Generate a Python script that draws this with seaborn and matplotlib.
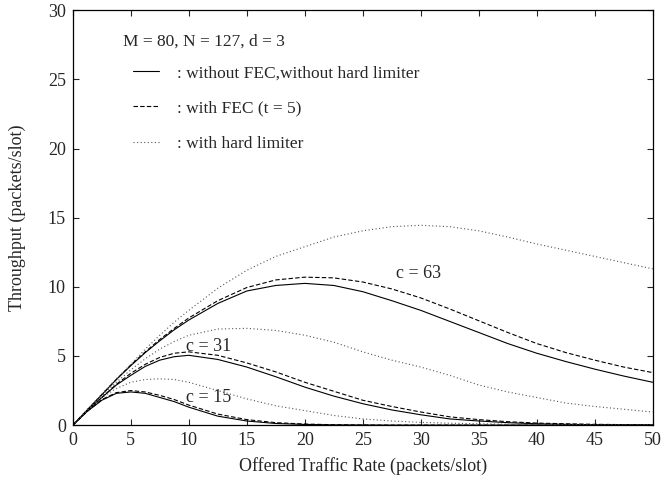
import numpy as np
import pandas as pd
import matplotlib
matplotlib.use("Agg")
import matplotlib.pyplot as plt
import seaborn as sns

# Offered traffic rate (packets/slot)
offered = [0, 1.25, 2.5, 3.75, 5, 6.25, 7.5, 8.75, 10, 12.5, 15, 17.5, 20, 22.5,
           25, 27.5, 30, 32.5, 35, 37.5, 40, 42.5, 45, 47.5, 50]

# Throughput (packets/slot), code length c = 63
c63_plain = [0, 1.1, 2.2, 3.3, 4.3, 5.25, 6.1, 6.9, 7.6, 8.8, 9.7, 10.1, 10.25, 10.1,
             9.65, 9.0, 8.3, 7.5, 6.7, 5.9, 5.2, 4.6, 4.05, 3.55, 3.1]
c63_fec = [0, 1.1, 2.2, 3.3, 4.35, 5.3, 6.2, 7.0, 7.75, 9.0, 9.95, 10.5, 10.7, 10.65,
           10.35, 9.85, 9.2, 8.4, 7.55, 6.7, 5.9, 5.25, 4.7, 4.2, 3.8]
c63_hl = [0, 1.15, 2.25, 3.35, 4.4, 5.5, 6.5, 7.45, 8.3, 9.9, 11.2, 12.2, 12.9, 13.6,
          14.05, 14.35, 14.45, 14.35, 14.05, 13.6, 13.1, 12.65, 12.2, 11.75, 11.3]

# c = 31
c31_plain = [0, 1.05, 2.0, 2.9, 3.6, 4.25, 4.7, 4.95, 5.05, 4.75, 4.2, 3.5, 2.75, 2.1,
             1.55, 1.1, 0.75, 0.45, 0.3, 0.18, 0.1, 0.06, 0.03, 0.02, 0.01]
c31_fec = [0, 1.05, 2.0, 2.95, 3.75, 4.4, 4.9, 5.2, 5.3, 5.05, 4.5, 3.85, 3.1, 2.45,
           1.8, 1.35, 0.95, 0.6, 0.4, 0.25, 0.15, 0.1, 0.06, 0.04, 0.02]
c31_hl = [0, 1.1, 2.1, 3.1, 4.0, 4.8, 5.5, 6.05, 6.5, 6.95, 7.0, 6.85, 6.5, 6.0,
          5.3, 4.7, 4.2, 3.6, 2.9, 2.4, 2.0, 1.6, 1.35, 1.15, 0.95]

# c = 15
c15_plain = [0, 1.0, 1.8, 2.3, 2.4, 2.3, 2.0, 1.7, 1.3, 0.65, 0.3, 0.12, 0.05, 0.02,
             0.01, 0, 0, 0, 0, 0, 0, 0, 0, 0, 0]
c15_fec = [0, 1.0, 1.85, 2.35, 2.5, 2.4, 2.15, 1.85, 1.45, 0.8, 0.4, 0.18, 0.08, 0.03,
           0.01, 0, 0, 0, 0, 0, 0, 0, 0, 0, 0]
c15_hl = [0, 1.05, 2.0, 2.65, 3.1, 3.3, 3.35, 3.3, 3.1, 2.5, 1.9, 1.4, 1.05, 0.7,
          0.45, 0.3, 0.2, 0.14, 0.1, 0.07, 0.05, 0.04, 0.03, 0.02, 0.02]

code_lengths = ["c = 63", "c = 31", "c = 15"]
label_pos = {"c = 63": (29.8, 11.0), "c = 31": (11.75, 5.7), "c = 15": (11.75, 2.0)}

legend_title = "M = 80, N = 127, d = 3"
case_labels = [": without FEC,without hard limiter", ": with FEC (t = 5)", ": with hard limiter"]

series = {
    "c = 63": [c63_plain, c63_fec, c63_hl],
    "c = 31": [c31_plain, c31_fec, c31_hl],
    "c = 15": [c15_plain, c15_fec, c15_hl],
}

rows = []
for c in code_lengths:
    for case, vals in zip(case_labels, series[c]):
        for x, y in zip(offered, vals):
            rows.append({"offered": x, "throughput": y, "code": c, "case": case})
df = pd.DataFrame(rows)

sns.set_style("ticks")
plt.rcParams["font.family"] = ["Liberation Serif", "DejaVu Serif"]

fig, ax = plt.subplots(figsize=(6.62, 4.87), dpi=100)
fig.subplots_adjust(left=0.110, right=0.986, top=0.979, bottom=0.127)

styles = {
    case_labels[0]: dict(color="black", linestyle="-", linewidth=0.8),
    case_labels[1]: dict(color="black", linestyle=(0, (4, 2)), linewidth=0.8),
    case_labels[2]: dict(color="#555555", linestyle=(0, (1, 2.2)), linewidth=0.8),
}

handles = {}
for c in code_lengths:
    for case in case_labels:
        sub = df[(df["code"] == c) & (df["case"] == case)]
        sns.lineplot(data=sub, x="offered", y="throughput", ax=ax,
                     estimator=None, sort=True, **styles[case])
        handles[case] = ax.lines[-1]

for c in code_lengths:
    ax.text(*label_pos[c], c, fontsize=13, ha="center", va="center")

ax.set_xlim(0, 50)
ax.set_ylim(0, 30)
ax.set_xticks(np.arange(0, 51, 5))
ax.set_yticks(np.arange(0, 31, 5))
ax.tick_params(direction="in", top=True, right=True, length=4, width=0.8,
               labelsize=13, pad=5)
for s in ax.spines.values():
    s.set_linewidth(0.9)
    s.set_color("black")

ax.set_xlabel("Offered Traffic Rate (packets/slot)", fontsize=13, labelpad=6)
ax.set_ylabel("Throughput (packets/slot)", fontsize=13, labelpad=16)

# Parameter line above the line-style key
ax.text(0.0858, 0.925, legend_title, transform=ax.transAxes, fontsize=12.5,
        ha="left", va="center")
leg = ax.legend([handles[k] for k in case_labels], case_labels,
                loc="upper left", bbox_to_anchor=(0.103, 0.868), frameon=False,
                fontsize=12.5, handlelength=1.55, handletextpad=1.03,
                labelspacing=1.1, borderaxespad=0, borderpad=0)

fig.savefig("out.png", dpi=100)
